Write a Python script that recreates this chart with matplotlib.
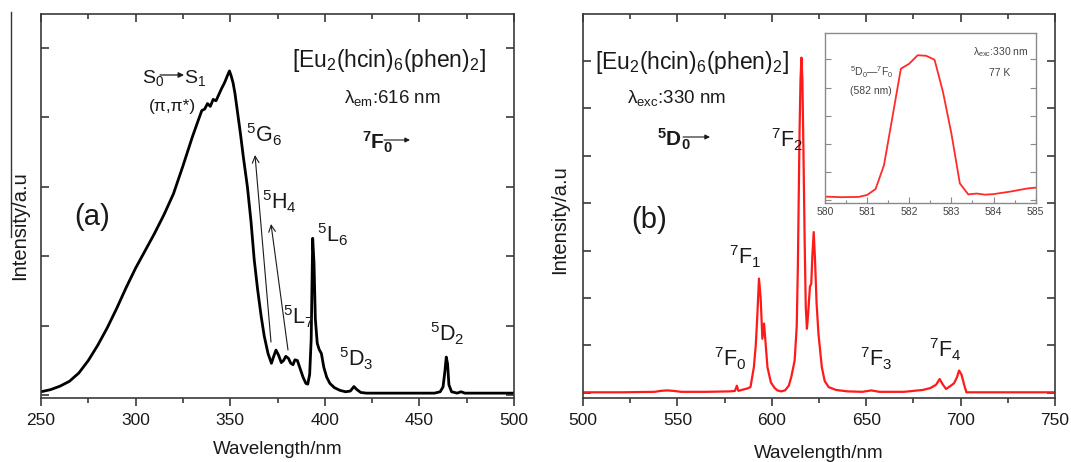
import matplotlib
matplotlib.use("Agg")
import matplotlib.pyplot as plt
from matplotlib.ticker import MultipleLocator, NullFormatter

plt.rcParams['font.family'] = ['Liberation Sans', 'DejaVu Sans']
plt.rcParams['mathtext.fontset'] = 'custom'
plt.rcParams['mathtext.rm'] = 'Liberation Sans'
plt.rcParams['mathtext.it'] = 'Liberation Sans:italic'
plt.rcParams['mathtext.bf'] = 'Liberation Sans:bold'

# ---------------- data ----------------
# (a) excitation spectrum (lambda_em = 616 nm)  -- rows aligned one-to-one
exc_wl = [250, 255, 260, 265, 270, 275, 280, 285, 290, 295,
          300, 305, 310, 315, 320, 325, 330, 333, 335, 336.5,
          338, 339.5, 341, 342.5, 344, 345.5, 347, 348.5, 349.6, 350.5,
          351.5, 352.5, 353.5, 355.4, 357, 359.1, 361, 362.7, 364.5, 366.4,
          368, 370, 371.8, 373, 374.2, 375.5, 377, 378.2, 379.4, 380.8,
          382, 383.2, 384.2, 385.5, 387, 388.5, 390, 391, 392, 392.8,
          393.6, 394.3, 395, 396, 397, 398.2, 399.5, 401, 402.7, 405,
          408, 411, 413.5, 415.4, 417, 419, 422, 430, 440, 450,
          458, 461, 462.5, 463.5, 464.2, 464.9, 465.6, 467, 470, 472,
          474, 480, 490, 500]
exc_int = [0.05, 0.08, 0.13, 0.2, 0.32, 0.5, 0.72, 0.97, 1.25, 1.55,
           1.83, 2.08, 2.33, 2.6, 2.9, 3.3, 3.72, 3.95, 4.1, 4.12,
           4.2, 4.16, 4.26, 4.24, 4.33, 4.42, 4.5, 4.6, 4.67, 4.6,
           4.5, 4.35, 4.15, 3.77, 3.42, 3.0, 2.5, 1.95, 1.52, 1.13,
           0.85, 0.6, 0.46, 0.56, 0.65, 0.58, 0.47, 0.5, 0.56, 0.53,
           0.46, 0.44, 0.51, 0.5, 0.38, 0.26, 0.17, 0.16, 0.3, 0.8,
           2.26, 1.9, 1.1, 0.75, 0.66, 0.6, 0.4, 0.26, 0.17, 0.11,
           0.07, 0.05, 0.06, 0.125, 0.08, 0.04, 0.03, 0.03, 0.03, 0.03,
           0.03, 0.05, 0.12, 0.35, 0.55, 0.45, 0.15, 0.05, 0.03, 0.05,
           0.03, 0.03, 0.03, 0.03]

# (b) emission spectrum (lambda_exc = 330 nm)
em_wl = [500, 520, 538, 541, 544.5, 548, 552, 565, 578, 580.5,
         581.5, 582.3, 584, 587, 588.7, 590.5, 591.5, 592.3, 593.2, 594.1,
         595, 595.9, 596.8, 597.7, 599.5, 601.5, 603, 604.9, 607, 609,
         610.3, 612.1, 613.2, 613.8, 614.7, 615.2, 615.7, 616.2, 616.8, 617.4,
         618, 618.6, 619.3, 620.2, 620.9, 621.5, 622.2, 622.9, 623.7, 624.7,
         626.5, 628, 630.1, 634, 640, 648, 652.7, 657, 670, 680,
         684, 687, 688.9, 690.5, 692.3, 694.5, 696.5, 698, 699.2, 700.5,
         702, 703.1, 706, 720, 750]
em_int = [0.01, 0.01, 0.02, 0.04, 0.05, 0.04, 0.02, 0.02, 0.03, 0.04,
          0.15, 0.04, 0.06, 0.09, 0.12, 0.54, 1.0, 1.6, 2.41, 2.0,
          1.14, 1.46, 1.0, 0.54, 0.22, 0.1, 0.05, 0.03, 0.05, 0.15,
          0.33, 0.68, 1.4, 2.66, 5.5, 6.6, 7.07, 6.6, 5.0, 3.2,
          1.8, 1.35, 1.7, 2.24, 2.3, 2.9, 3.39, 2.8, 1.9, 1.25,
          0.54, 0.25, 0.12, 0.06, 0.03, 0.02, 0.05, 0.02, 0.02, 0.06,
          0.1, 0.17, 0.29, 0.18, 0.08, 0.14, 0.2, 0.32, 0.47, 0.38,
          0.15, 0.01, 0.01, 0.01, 0.01]

# inset: 5D0 -> 7F0 at 77 K
ins_wl = [580.0, 580.4, 580.8, 581.0, 581.2, 581.4, 581.6, 581.8, 582.0, 582.2,
          582.4, 582.6, 582.8, 583.0, 583.2, 583.4, 583.6, 583.8, 584.0, 584.4,
          584.8, 585.0]
ins_int = [0.12, 0.1, 0.11, 0.18, 0.39, 1.24, 2.95, 4.67, 4.85, 5.15,
           5.13, 4.99, 3.84, 2.36, 0.59, 0.2, 0.23, 0.19, 0.21, 0.3,
           0.41, 0.44]

xticks_a = [250, 300, 350, 400, 450, 500]
xticks_b = [500, 550, 600, 650, 700, 750]
xticks_i = [580, 581, 582, 583, 584, 585]

# ---------------- figure ----------------
W, H = 1071, 462
fig = plt.figure(figsize=(W / 100, H / 100), dpi=100)


def rect(l, t, r, b):
    return [l / W, 1 - b / H, (r - l) / W, (b - t) / H]


def P(x, y):
    return (x / W, 1 - y / H)


SP = '#3a3a3a'
TXT = '#1a1a1a'


def style(ax, tick_fs=12.5, lw=1.2, maj=6, mnr=3.5, col=SP):
    for s in ax.spines.values():
        s.set_color(col)
        s.set_linewidth(lw)
    ax.yaxis.set_major_locator(MultipleLocator(1))
    ax.yaxis.set_major_formatter(NullFormatter())
    ax.tick_params(axis='x', which='both', bottom=True, top=True, direction='out',
                   colors=col, labelcolor=TXT, labelsize=tick_fs, width=lw)
    ax.tick_params(axis='x', which='major', length=maj, pad=5)
    ax.tick_params(axis='x', which='minor', length=mnr)
    ax.tick_params(axis='y', which='both', left=True, right=True, direction='in',
                   colors=col, length=maj, width=lw)
    # top ticks point inward
    for t in ax.xaxis.get_major_ticks() + ax.xaxis.get_minor_ticks():
        t.tick2line.set_marker(3)


# ---- panel (a)
axa = fig.add_axes(rect(41, 14, 514, 398))
axa.plot(exc_wl, exc_int, color='black', lw=2.0, solid_joinstyle='round')
axa.set_xlim(250, 500)
axa.set_ylim(-0.04, 5.49)
axa.set_xticks(xticks_a)
axa.xaxis.set_minor_locator(MultipleLocator(25))
style(axa)

# ---- panel (b)
axb = fig.add_axes(rect(583, 14, 1055, 398))
axb.plot(em_wl, em_int, color='#ff1a1a', lw=1.6, solid_joinstyle='round')
axb.set_xlim(500, 750)
axb.set_ylim(-0.11, 7.99)
axb.set_xticks(xticks_b)
axb.xaxis.set_minor_locator(MultipleLocator(25))
style(axb)

# ---- inset
axi = fig.add_axes(rect(825, 33.3, 1035.7, 203.3))
axi.plot(ins_wl, ins_int, color='#ff2a2a', lw=1.3)
axi.set_xlim(580, 585)
axi.set_ylim(-0.117, 5.93)
axi.set_xticks(xticks_i)
axi.xaxis.set_minor_locator(MultipleLocator(0.5))
for s in axi.spines.values():
    s.set_color('#8a8a8a')
    s.set_linewidth(1.0)
axi.yaxis.set_major_locator(MultipleLocator(1))
axi.yaxis.set_major_formatter(NullFormatter())
axi.tick_params(axis='both', which='both', direction='in', colors='#8a8a8a',
                labelcolor='#444444', labelsize=7.5, width=0.8)
axi.tick_params(axis='x', which='major', length=4, pad=3)
axi.tick_params(axis='x', which='minor', length=2)
axi.tick_params(axis='y', which='major', left=True, right=True, length=4)

# ---- axis labels
fig.text(*P(20, 226), 'Intensity/a.u', rotation=90, ha='center', va='center',
         fontsize=14.5, color=TXT)
fig.text(*P(560, 220), 'Intensity/a.u', rotation=90, ha='center', va='center',
         fontsize=14.5, color=TXT)
fig.text(*P(277.5, 450), 'Wavelength/nm', ha='center', va='center',
         fontsize=13.5, color=TXT)
fig.text(*P(819, 454), 'Wavelength/nm', ha='center', va='center',
         fontsize=13.5, color=TXT)

# stray crop line at the left edge of the reference
fig.add_artist(plt.Line2D([11 / W, 11 / W], [1 - 12 / H, 1 - 237 / H],
                          color='#333333', lw=1.0))

title = '[Eu$_2$(hcin)$_6$(phen)$_2$]'
LBL = 15.5


def arrow(ax, x1, y1, x2, y2, style='-|>', ms=7, lw=0.8):
    ax.annotate('', xy=(x2, H - y2), xytext=(x1, H - y1), xycoords='figure pixels',
                textcoords='figure pixels',
                arrowprops=dict(arrowstyle=style, lw=lw, color=TXT,
                                mutation_scale=ms, shrinkA=0, shrinkB=0))


# ---- annotations panel (a)
fig.text(*P(388.5, 61), title, ha='center', va='center', fontsize=16.5, color=TXT)
fig.text(*P(392, 98), r'λ$_{\mathrm{em}}$:616 nm', ha='center', va='center',
         fontsize=13.5, color=TXT)
fig.text(*P(362, 142), r'$\mathbf{^{7}F_{0}}$', ha='left', va='center',
         fontsize=15, color=TXT)
arrow(axa, 384, 140, 410, 140)
fig.text(*P(142, 78), 'S$_0$', ha='left', va='center', fontsize=14, color=TXT)
arrow(axa, 160, 75, 184, 75, ms=8, lw=0.9)
fig.text(*P(184, 78), 'S$_1$', ha='left', va='center', fontsize=14, color=TXT)
fig.text(*P(172, 107), '(π,π*)', ha='center', va='center', fontsize=12.5,
         color=TXT)
fig.text(*P(92, 217), '(a)', ha='center', va='center', fontsize=21, color=TXT)
for (lx, ly, s) in [(246, 135, '$^{5}$G$_{6}$'), (262, 202, '$^{5}$H$_{4}$'),
                    (317, 235, '$^{5}$L$_{6}$'), (283, 317, '$^{5}$L$_{7}$'),
                    (339, 359, '$^{5}$D$_{3}$'), (430, 334, '$^{5}$D$_{2}$')]:
    fig.text(*P(lx, ly), s, ha='left', va='center', fontsize=LBL, color=TXT)
arrow(axa, 271, 342, 255, 155, style='->', ms=12)
arrow(axa, 288, 350, 271, 224, style='->', ms=12)

# ---- annotations panel (b)
fig.text(*P(692, 63), title, ha='center', va='center', fontsize=16.5, color=TXT)
fig.text(*P(676, 98), r'λ$_{\mathrm{exc}}$:330 nm', ha='center', va='center',
         fontsize=13.5, color=TXT)
fig.text(*P(657, 139), r'$\mathbf{^{5}D_{0}}$', ha='left', va='center',
         fontsize=15, color=TXT)
arrow(axb, 683, 137, 710, 137)
fig.text(*P(649, 220), '(b)', ha='center', va='center', fontsize=21, color=TXT)
for (lx, ly, s) in [(771, 140, '$^{7}$F$_{2}$'), (729, 257, '$^{7}$F$_{1}$'),
                    (714, 359, '$^{7}$F$_{0}$'), (860, 359, '$^{7}$F$_{3}$'),
                    (929, 350, '$^{7}$F$_{4}$')]:
    fig.text(*P(lx, ly), s, ha='left', va='center', fontsize=LBL, color=TXT)

# ---- inset annotations
fig.text(*P(1001, 52), r'λ$_{\mathrm{exc}}$:330 nm', ha='center', va='center',
         fontsize=7.5, color='#444444')
fig.text(*P(1000, 73), '77 K', ha='center', va='center', fontsize=7.5,
         color='#444444')
fig.text(*P(872, 72), '$^{5}$D$_{0}$—$^{7}$F$_{0}$', ha='center', va='center',
         fontsize=7.5, color='#444444')
fig.text(*P(871, 91), '(582 nm)', ha='center', va='center', fontsize=7.5,
         color='#444444')

fig.savefig('out.png', dpi=100)
